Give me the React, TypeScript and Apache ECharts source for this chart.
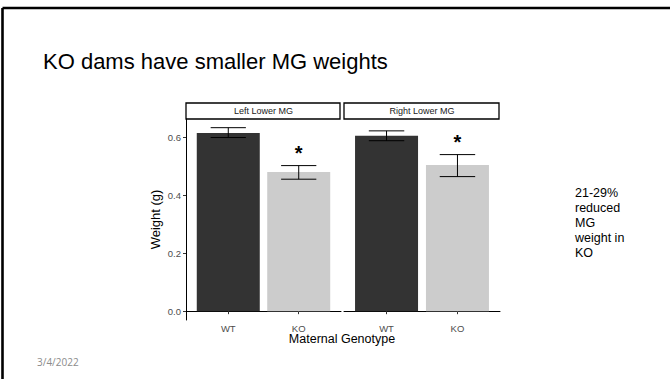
import React, { useEffect, useRef } from "react";
import * as echarts from "echarts";

const panels = ["Left Lower MG", "Right Lower MG"];
const genotypes = ["WT", "KO"];
const leftMeans = [0.616, 0.481];
const leftLow = [0.6, 0.456];
const leftHigh = [0.634, 0.503];
const rightMeans = [0.606, 0.505];
const rightLow = [0.589, 0.465];
const rightHigh = [0.623, 0.541];
const significant = [false, true];
const yTicks = [0, 0.2, 0.4, 0.6];
const barColors = ["#333333", "#cccccc"];

const Y_MIN = -0.0305;
const Y_MAX = 0.664;

const FONT = "'Liberation Sans', Arial, sans-serif";

export default function App() {
  const ref = useRef<HTMLDivElement>(null);
  useEffect(() => {
    if (!ref.current) return;
    const chart = echarts.init(ref.current, null, { renderer: "svg" });

    const panelData = [
      { means: leftMeans, low: leftLow, high: leftHigh },
      { means: rightMeans, low: rightLow, high: rightHigh },
    ];

    const grids = [
      { left: 186, top: 119, width: 155, height: 201 },
      { left: 344, top: 119, width: 156, height: 201 },
    ];

    const xAxes = grids.map((_, i) => ({
      type: "value",
      gridIndex: i,
      min: 0.4,
      max: 2.6,
      axisLine: { show: true, lineStyle: { color: "#000", width: 1 } },
      axisTick: { show: true, length: 3, customValues: [1, 2], lineStyle: { color: "#333" } },
      axisLabel: {
        customValues: [1, 2],
        formatter: (v: number) => genotypes[Math.round(v) - 1] ?? "",
        color: "#4d4d4d",
        fontSize: 9.5,
        fontFamily: FONT,
        margin: 3,
      },
      splitLine: { show: false },
    }));

    const yAxes = grids.map((_, i) => ({
      type: "value",
      gridIndex: i,
      min: Y_MIN,
      max: Y_MAX,
      show: i === 0,
      name: i === 0 ? "Weight (g)" : "",
      nameLocation: "middle",
      nameRotate: 90,
      nameGap: 24,
      nameTextStyle: { fontSize: 13, color: "#000", fontFamily: FONT },
      axisLine: { show: true, lineStyle: { color: "#000", width: 1 } },
      axisTick: { show: true, length: 3, customValues: yTicks, lineStyle: { color: "#333" } },
      axisLabel: {
        customValues: yTicks,
        formatter: (v: number) => v.toFixed(1),
        color: "#4d4d4d",
        fontSize: 9.5,
        fontFamily: FONT,
        margin: 5,
      },
      splitLine: { show: false },
    }));

    const series: any[] = [];
    panelData.forEach((pd, pi) => {
      series.push({
        type: "bar",
        xAxisIndex: pi,
        yAxisIndex: pi,
        barWidth: 63,
        data: pd.means.map((m, gi) => ({
          value: [gi + 1, m],
          itemStyle: { color: barColors[gi] },
        })),
      });
      series.push({
        type: "custom",
        xAxisIndex: pi,
        yAxisIndex: pi,
        z: 5,
        data: pd.means.map((_, gi) => [gi + 1, pd.low[gi], pd.high[gi], significant[gi] ? 1 : 0]),
        renderItem: (params: any, api: any) => {
          const x = api.value(0);
          const lo = api.value(1);
          const hi = api.value(2);
          const sig = api.value(3);
          const pLo = api.coord([x, lo]);
          const pHi = api.coord([x, hi]);
          const pL = api.coord([x - 0.25, hi]);
          const pR = api.coord([x + 0.25, hi]);
          const style = { stroke: "#000", lineWidth: 1 };
          const children: any[] = [
            { type: "line", shape: { x1: pHi[0], y1: pHi[1], x2: pLo[0], y2: pLo[1] }, style },
            { type: "line", shape: { x1: pL[0], y1: pHi[1], x2: pR[0], y2: pHi[1] }, style },
            { type: "line", shape: { x1: pL[0], y1: pLo[1], x2: pR[0], y2: pLo[1] }, style },
          ];
          if (sig) {
            children.push({
              type: "text",
              style: {
                text: "*",
                x: pHi[0],
                y: pHi[1] - 12.5,
                align: "center",
                verticalAlign: "middle",
                fontSize: 20,
                fontWeight: "bold",
                fontFamily: FONT,
                fill: "#000",
              },
            });
          }
          return { type: "group", children };
        },
      });
    });

    const graphic: any[] = [
      { type: "line", shape: { x1: 2.5, y1: 8, x2: 670, y2: 8 }, style: { stroke: "#000", lineWidth: 2.6 } },
      { type: "line", shape: { x1: 2.5, y1: 8, x2: 2.5, y2: 379 }, style: { stroke: "#000", lineWidth: 2.6 } },
      {
        type: "text",
        left: 43,
        top: 50,
        style: { text: "KO dams have smaller MG weights", fontSize: 22, fill: "#000", fontFamily: FONT },
      },
      {
        type: "text",
        left: 575,
        top: 185,
        style: {
          text: "21-29%\nreduced\nMG\nweight in\nKO",
          fontSize: 12.5,
          lineHeight: 15,
          fill: "#000",
          fontFamily: FONT,
        },
      },
      {
        type: "text",
        left: 37,
        top: 357,
        style: { text: "3/4/2022", fontSize: 10, fill: "#8b8b8b", fontFamily: "'Open Sans', sans-serif" },
      },
      {
        type: "text",
        x: 342,
        y: 339,
        style: {
          text: "Maternal Genotype",
          fontSize: 12.5,
          fill: "#000",
          fontFamily: FONT,
          align: "center",
          verticalAlign: "middle",
        },
      },
    ];
    grids.forEach((g, i) => {
      graphic.push({
        type: "rect",
        shape: { x: g.left, y: 103, width: g.width - 1, height: 16 },
        style: { fill: "#fff", stroke: "#000", lineWidth: 1.3 },
      });
      graphic.push({
        type: "text",
        x: g.left + g.width / 2,
        y: 111,
        style: {
          text: panels[i],
          fontSize: 9,
          fill: "#1a1a1a",
          fontFamily: FONT,
          align: "center",
          verticalAlign: "middle",
        },
      });
    });

    chart.setOption({
      animation: false,
      backgroundColor: "#fff",
      grid: grids,
      xAxis: xAxes,
      yAxis: yAxes,
      series,
      graphic,
    });
    return () => chart.dispose();
  }, []);
  return (
    <div
      ref={ref}
      style={{ position: "fixed", left: 0, top: 0, width: 670, height: 379, background: "#fff" }}
    />
  );
}
